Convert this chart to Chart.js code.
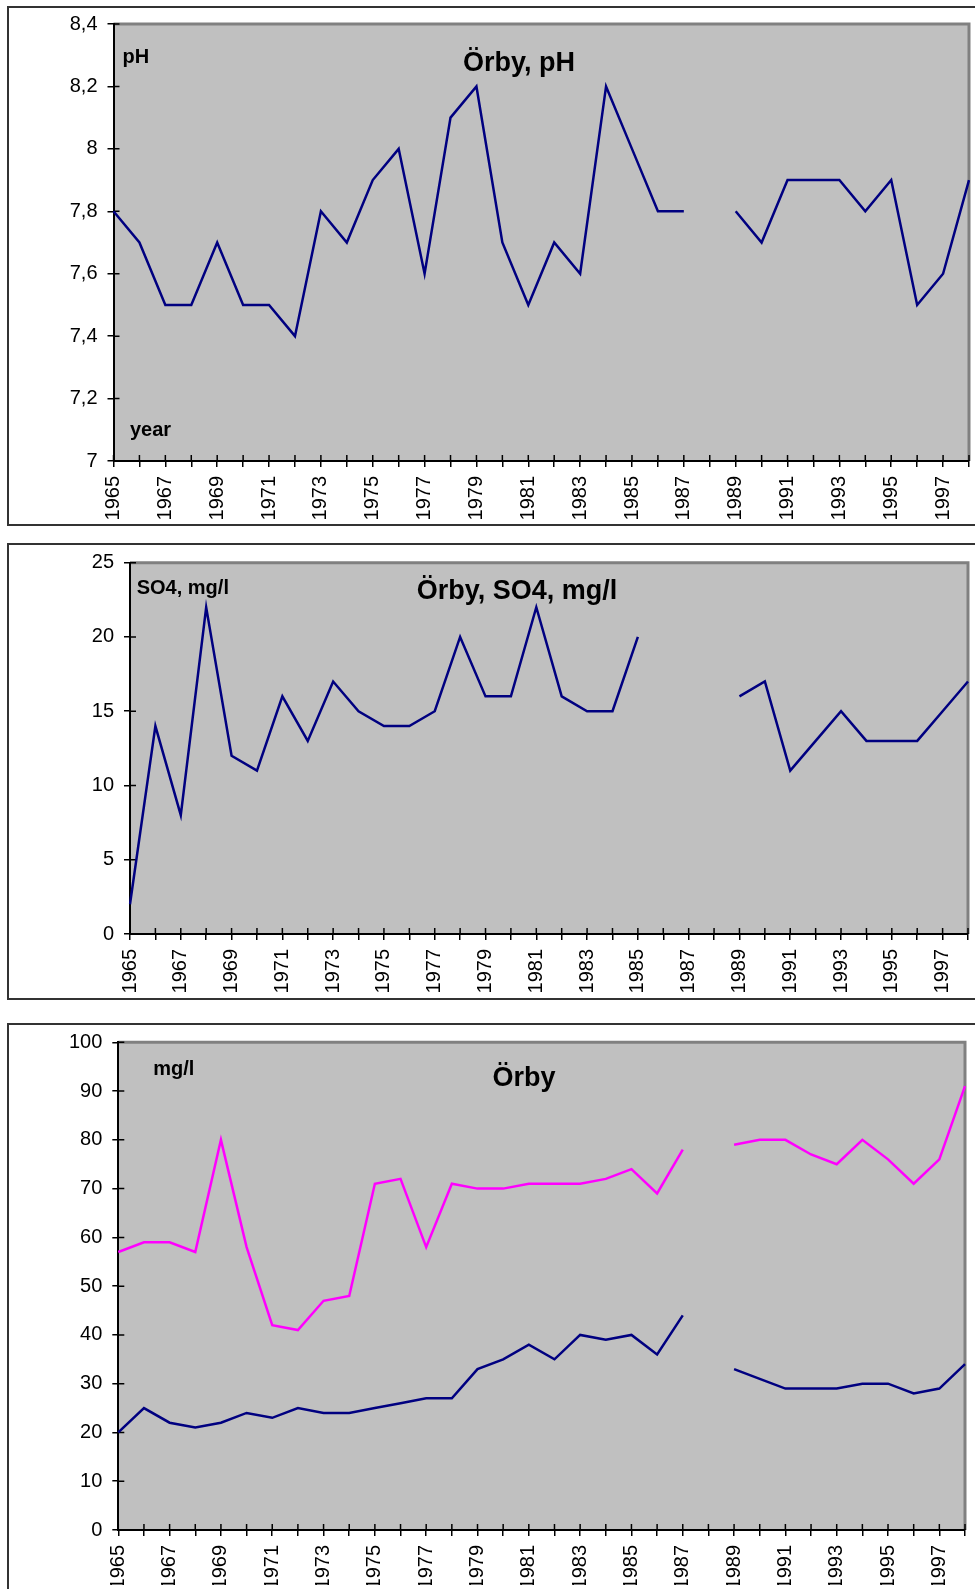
<!DOCTYPE html>
<html>
<head>
<meta charset="utf-8">
<script src="https://cdn.jsdelivr.net/npm/chart.js@4.4.0/dist/chart.umd.min.js"></script>
<style>
    body { margin: 0; background: #fff; width: 975px; height: 1589px; overflow: hidden; position: relative; }
    .box { position: absolute; left: 7px; width: 990px; border: 2px solid #333; box-sizing: border-box; background: #fff; }
    canvas { position: absolute; left: 0; }
</style>
</head>
<body>
<div class="box" style="top:6px;height:520px"></div>
<div class="box" style="top:543px;height:457px"></div>
<div class="box" style="top:1023px;height:600px"></div>
<canvas id="phChart" width="975" height="535" style="top:0px"></canvas>
<canvas id="so4Chart" width="975" height="470" style="top:535px"></canvas>
<canvas id="mgChart" width="975" height="579" style="top:1010px"></canvas>
<script>
// Years on the x axis
const years = ['1965', '1966', '1967', '1968', '1969', '1970', '1971', '1972', '1973', '1974',
    '1975', '1976', '1977', '1978', '1979', '1980', '1981', '1982', '1983', '1984',
    '1985', '1986', '1987', '1988', '1989', '1990', '1991', '1992', '1993', '1994',
    '1995', '1996', '1997', '1998'];

// Örby, pH
const phValues = [7.8, 7.7, 7.5, 7.5, 7.7, 7.5, 7.5, 7.4, 7.8, 7.7,
    7.9, 8.0, 7.6, 8.1, 8.2, 7.7, 7.5, 7.7, 7.6, 8.2,
    8.0, 7.8, 7.8, null, 7.8, 7.7, 7.9, 7.9, 7.9, 7.8,
    7.9, 7.5, 7.6, 7.9];

// Örby, SO4, mg/l
const so4Values = [2, 14, 8, 22, 12, 11, 16, 13, 17, 15,
    14, 14, 15, 20, 16, 16, 22, 16, 15, 15,
    20, null, null, null, 16, 17, 11, 13, 15, 13,
    13, 13, 15, 17];

// Örby, mg/l - upper (magenta) and lower (navy) series
const pinkValues = [57, 59, 59, 57, 80, 58, 42, 41, 47, 48,
    71, 72, 58, 71, 70, 70, 71, 71, 71, 72,
    74, 69, 78, null, 79, 80, 80, 77, 75, 80,
    76, 71, 76, 91];
const navyValues = [20, 25, 22, 21, 22, 24, 23, 25, 24, 24,
    25, 26, 27, 27, 33, 35, 38, 35, 40, 39,
    40, 36, 44, null, 33, 31, 29, 29, 29, 30,
    30, 28, 29, 34];

const FONT = '"Liberation Sans", Arial, sans-serif';

// Grey plot area, inner half of the crossing tick marks and the labels inside the plot
const decor = {
    id: 'decor',
    beforeDraw(chart) {
        const a = chart.chartArea, ctx = chart.ctx;
        ctx.save();
        ctx.fillStyle = '#c0c0c0';
        ctx.fillRect(a.left, a.top, a.right - a.left, a.bottom - a.top);
        ctx.strokeStyle = '#808080';
        ctx.lineWidth = 3;
        ctx.beginPath();
        ctx.moveTo(a.left, a.top);
        ctx.lineTo(a.right, a.top);
        ctx.lineTo(a.right, a.bottom);
        ctx.stroke();
        ctx.restore();
    },
    beforeDatasetsDraw(chart) {
        const a = chart.chartArea, ctx = chart.ctx;
        const xs = chart.scales.x, ys = chart.scales.y;
        ctx.save();
        ctx.strokeStyle = '#000';
        ctx.lineWidth = 1.5;
        ctx.beginPath();
        xs.ticks.forEach((t, i) => {
            const px = xs.getPixelForTick(i);
            ctx.moveTo(px, a.bottom);
            ctx.lineTo(px, a.bottom - 6);
        });
        ys.ticks.forEach((t, i) => {
            const py = ys.getPixelForTick(i);
            ctx.moveTo(a.left, py);
            ctx.lineTo(a.left + 6, py);
        });
        ctx.stroke();
        ctx.restore();
    },
    afterDraw(chart, args, opts) {
        const a = chart.chartArea, ctx = chart.ctx;
        ctx.save();
        ctx.fillStyle = '#000';
        ctx.textBaseline = 'alphabetic';
        (opts.texts || []).forEach(t => {
            ctx.font = t.font;
            ctx.textAlign = t.align || 'left';
            ctx.fillText(t.text, a.left + t.dx, a.top + t.dy);
        });
        ctx.restore();
    }
};

function makeChart(id, datasets, yOpts, layout, texts) {
    return new Chart(document.getElementById(id), {
        type: 'line',
        data: { labels: years, datasets: datasets },
        options: {
            responsive: false,
            animation: false,
            devicePixelRatio: 1,
            layout: { padding: { left: 0, top: layout.top, right: layout.right, bottom: layout.bottom } },
            plugins: {
                legend: { display: false },
                tooltip: { enabled: false },
                decor: { texts: texts }
            },
            elements: {
                point: { radius: 0 },
                line: { tension: 0, borderWidth: 2.5 }
            },
            scales: {
                x: {
                    offset: false,
                    grid: { display: true, drawOnChartArea: false, drawTicks: true, tickLength: 6, color: '#000', lineWidth: 1.5 },
                    border: { display: true, color: '#000', width: 2 },
                    ticks: {
                        autoSkip: false,
                        minRotation: 90,
                        maxRotation: 90,
                        padding: 9,
                        color: '#000',
                        font: { family: FONT, size: 20 },
                        callback: (v, i) => (i % 2 === 0 ? years[i] : '')
                    },
                    afterFit(scale) {
                        scale.height = layout.xHeight;
                        scale.paddingLeft = 0;
                        scale.paddingRight = 0;
                    }
                },
                y: {
                    min: yOpts.min,
                    max: yOpts.max,
                    grid: { display: true, drawOnChartArea: false, drawTicks: true, tickLength: 6, color: '#000', lineWidth: 1.5 },
                    border: { display: true, color: '#000', width: 2 },
                    ticks: {
                        stepSize: yOpts.step,
                        padding: 10,
                        color: '#000',
                        font: { family: FONT, size: 20 },
                        callback: yOpts.format
                    },
                    afterFit(scale) {
                        scale.width = layout.left;
                        scale.paddingTop = 0;
                        scale.paddingBottom = 0;
                    }
                }
            }
        },
        plugins: [decor]
    });
}

const commaFormat = v => String(Math.round(v * 10) / 10).replace('.', ',');

makeChart('phChart',
    [{ data: phValues, borderColor: '#000080', spanGaps: false }],
    { min: 7, max: 8.4, step: 0.2, format: commaFormat },
    { left: 113.5, top: 24, right: 6, bottom: 14, xHeight: 60 },
    [
        { text: 'Örby, pH', font: 'bold 27px ' + FONT, align: 'center', dx: 405.5, dy: 47 },
        { text: 'pH', font: 'bold 20px ' + FONT, dx: 9, dy: 39 },
        { text: 'year', font: 'bold 20px ' + FONT, dx: 16.5, dy: 412 }
    ]);

makeChart('so4Chart',
    [{ data: so4Values, borderColor: '#000080', spanGaps: false }],
    { min: 0, max: 25, step: 5, format: v => String(v) },
    { left: 130, top: 27.7, right: 7, bottom: 11, xHeight: 60 },
    [
        { text: 'Örby, SO4, mg/l', font: 'bold 27px ' + FONT, align: 'center', dx: 387, dy: 36.5 },
        { text: 'SO4, mg/l', font: 'bold 20px ' + FONT, dx: 6.7, dy: 31.5 }
    ]);

makeChart('mgChart',
    [
        { data: pinkValues, borderColor: '#ff00ff', spanGaps: false },
        { data: navyValues, borderColor: '#000080', spanGaps: false }
    ],
    { min: 0, max: 100, step: 10, format: v => String(v) },
    { left: 118.3, top: 32.3, right: 10, bottom: 4, xHeight: 55 },
    [
        { text: 'Örby', font: 'bold 27px ' + FONT, align: 'center', dx: 405.7, dy: 43.5 },
        { text: 'mg/l', font: 'bold 20px ' + FONT, dx: 35, dy: 33 }
    ]);
</script>
</body>
</html>
